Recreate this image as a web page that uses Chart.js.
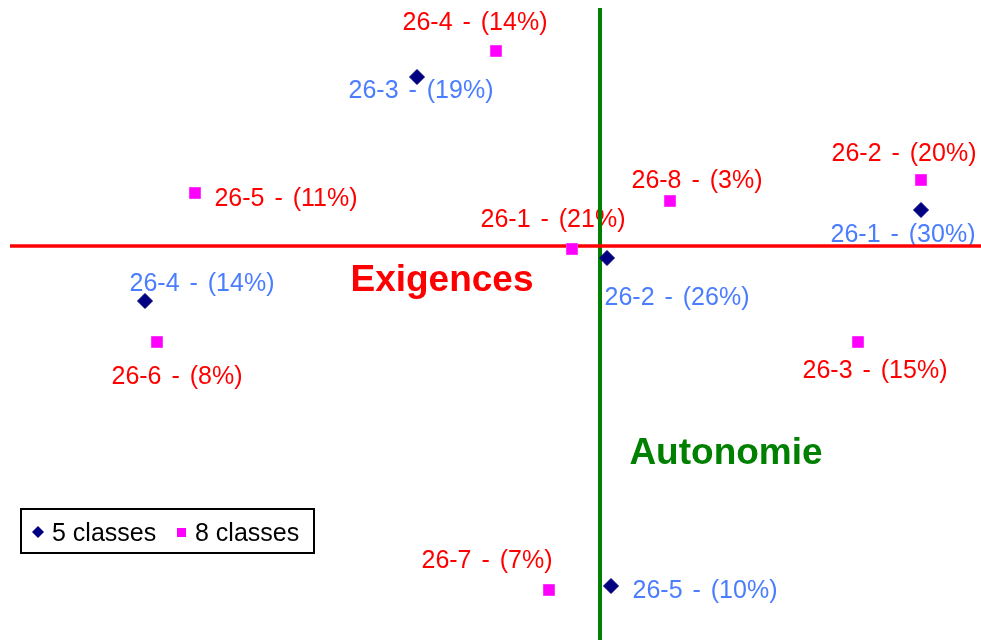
<!DOCTYPE html>
<html>
<head>
<meta charset="utf-8">
<script src="https://cdn.jsdelivr.net/npm/chart.js@4"></script>
<style>
  html, body { margin: 0; padding: 0; background: #fff; }
  #wrap { width: 981px; height: 640px; }
</style>
</head>
<body>
<div id="wrap"><canvas id="canvasMapa"></canvas></div>
<script>
// 5 classes
let noms5 = ['26-1', '26-2', '26-3', '26-4', '26-5'];
let pct5 = [30, 26, 19, 14, 10];
let x5 = [3.21, 0.07, -1.83, -4.55, 0.11];
let y5 = [0.36, -0.12, 1.69, -0.55, -3.40];

// 8 classes
let noms8 = ['26-1', '26-2', '26-3', '26-4', '26-5', '26-6', '26-7', '26-8'];
let pct8 = [21, 20, 15, 14, 11, 8, 7, 3];
let x8 = [-0.28, 3.21, 2.58, -1.04, -4.05, -4.43, -0.51, 0.70];
let y8 = [-0.03, 0.66, -0.96, 1.95, 0.53, -0.96, -3.44, 0.45];

// décalage des étiquettes (pixels) par rapport au point
let decal5 = [[-18, 25], [70, 40], [4, 14], [57, -17], [94, 5]];
let decal8 = [[-19, -29], [-17, -26], [17, 29], [-21, -28], [91, 6], [20, 35], [-62, -29], [27, -20]];

let bleu = '#4a7dff';
let rouge = '#ff0000';
let vert = '#008000';

function points(xs, ys) {
    return xs.map(function (v, i) { return { x: v, y: ys[i] }; });
}

// étiquettes des points + titres des axes (sous les lignes)
let pluginTextes = {
    id: 'textes',
    beforeDatasetsDraw(chart) {
        let ctx = chart.ctx;
        let sx = chart.scales.x, sy = chart.scales.y;
        ctx.save();
        ctx.textAlign = 'center';
        ctx.textBaseline = 'middle';
        ctx.font = '25px "Liberation Sans", Arial, sans-serif';
        ctx.wordSpacing = '3px';
        ctx.fillStyle = bleu;
        for (let i = 0; i < noms5.length; i++) {
            let px = sx.getPixelForValue(x5[i]) + decal5[i][0];
            let py = sy.getPixelForValue(y5[i]) + decal5[i][1];
            ctx.fillText(noms5[i] + ' - (' + pct5[i] + '%)', px, py);
        }
        ctx.fillStyle = rouge;
        for (let i = 0; i < noms8.length; i++) {
            let px = sx.getPixelForValue(x8[i]) + decal8[i][0];
            let py = sy.getPixelForValue(y8[i]) + decal8[i][1];
            ctx.fillText(noms8[i] + ' - (' + pct8[i] + '%)', px, py);
        }
        ctx.wordSpacing = '0px';
        ctx.font = 'bold 37px "Liberation Sans", Arial, sans-serif';
        ctx.fillStyle = rouge;
        ctx.fillText('Exigences', sx.getPixelForValue(-1.58), sy.getPixelForValue(-0.35));
        ctx.fillStyle = vert;
        ctx.fillText('Autonomie', sx.getPixelForValue(1.26), sy.getPixelForValue(-2.08));
        ctx.restore();
    }
};

// légende encadrée en bas à gauche
let pluginLegende = {
    id: 'legende',
    afterDatasetsDraw(chart) {
        let ctx = chart.ctx;
        ctx.save();
        ctx.fillStyle = '#fff';
        ctx.fillRect(21, 509, 293, 44);
        ctx.strokeStyle = '#000';
        ctx.lineWidth = 2;
        ctx.strokeRect(21, 509, 293, 44);
        // losange
        ctx.fillStyle = '#000080';
        ctx.beginPath();
        ctx.moveTo(38, 526); ctx.lineTo(44, 532); ctx.lineTo(38, 538); ctx.lineTo(32, 532);
        ctx.closePath();
        ctx.fill();
        // carré
        ctx.fillStyle = '#ff00ff';
        ctx.fillRect(177, 528, 9, 9);
        ctx.fillStyle = '#000';
        ctx.font = '25px "Liberation Sans", Arial, sans-serif';
        ctx.textBaseline = 'middle';
        ctx.textAlign = 'left';
        ctx.fillText(chart.data.datasets[0].label, 52, 534);
        ctx.fillText(chart.data.datasets[1].label, 195, 534);
        ctx.restore();
    }
};

let grafMapa = document.getElementById('canvasMapa').getContext('2d');
let chart = new Chart(grafMapa, {
    type: 'scatter',
    data: {
        datasets: [{
            label: '5 classes',
            data: points(x5, y5),
            pointStyle: 'rectRot',
            pointRadius: 7.5,
            backgroundColor: '#000080',
            borderColor: '#000080',
            borderWidth: 1,
            order: 0
        }, {
            label: '8 classes',
            data: points(x8, y8),
            pointStyle: 'rect',
            pointRadius: 7.8,
            backgroundColor: '#ff00ff',
            borderColor: '#ff33ff',
            borderWidth: 1,
            order: 1
        }, {
            label: 'axe horizontal',
            type: 'line',
            data: [{ x: -5.90, y: 0 }, { x: 3.81, y: 0 }],
            borderColor: rouge,
            borderWidth: 3.5,
            pointRadius: 0,
            order: 2
        }, {
            label: 'axe vertical',
            type: 'line',
            data: [{ x: 0, y: 2.38 }, { x: 0, y: -3.94 }],
            borderColor: vert,
            borderWidth: 4,
            pointRadius: 0,
            order: 3
        }]
    },
    options: {
        responsive: true,
        maintainAspectRatio: false,
        animation: false,
        layout: { padding: 0, autoPadding: false },
        plugins: {
            legend: { display: false },
            tooltip: { enabled: false }
        },
        scales: {
            x: { type: 'linear', min: -6.00, max: 3.81, display: false },
            y: { type: 'linear', min: -3.94, max: 2.46, display: false }
        }
    },
    plugins: [pluginTextes, pluginLegende]
});
</script>
</body>
</html>
